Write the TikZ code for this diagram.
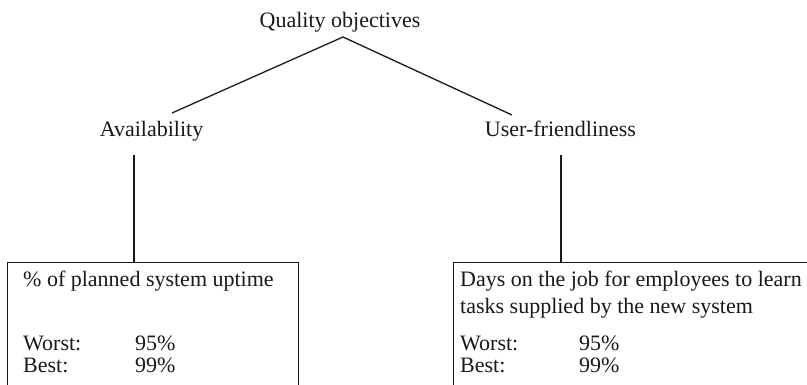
\documentclass[tikz,border=0pt]{standalone}
\usepackage{fontspec}
\setmainfont{Liberation Serif}
\begin{document}
\begin{tikzpicture}[x=1pt,y=-1pt,
  lbl/.style={inner sep=0pt,anchor=base west,font=\fontsize{22}{26}\selectfont,text=black!90},
  clbl/.style={inner sep=0pt,anchor=base,font=\fontsize{22}{26}\selectfont,text=black!90},
  conn/.style={line width=1.3pt,draw=black!90},
  boxstyle/.style={draw=black!90,line width=1.3pt,inner sep=0pt,anchor=north west}]
\clip (0,0) rectangle (807,385);
\fill[white] (0,0) rectangle (807,385);
% labels
\node[clbl] (qo) at (340,28) {Quality objectives};
\node[clbl] (av) at (151.5,137) {Availability};
\node[clbl] (uf) at (560.5,137) {User-friendliness};
% connector points
\coordinate (apex) at (343,37);
\coordinate (avtop) at (172,113);
\coordinate (uftop) at (512,115);
\coordinate (avbot) at (134,155);
\coordinate (ufbot) at (561,155);
% boxes
\node[boxstyle,minimum width=291pt,minimum height=200pt] (box1) at (7,262) {};
\node[boxstyle,minimum width=420pt,minimum height=200pt] (box2) at (453,262) {};
% connectors
\draw[conn] (apex) -- (avtop);
\draw[conn] (apex) -- (uftop);
\draw[conn] (avbot) -- (avbot |- box1.north);
\draw[conn] (ufbot) -- (ufbot |- box2.north);
% left box text
\node[lbl] (t1) at (23,287) {\% of planned system uptime};
\node[lbl] (w1) at (23,350) {Worst:};
\node[lbl] (w1v) at (135,350) {95\%};
\node[lbl] (b1) at (23,372) {Best:};
\node[lbl] (b1v) at (135,372) {99\%};
% right box text
\node[lbl] (t2a) at (460,287) {Days on the job for employees to learn};
\node[lbl] (t2b) at (460,313) {tasks supplied by the new system};
\node[lbl] (w2) at (460,350) {Worst:};
\node[lbl] (w2v) at (579,350) {95\%};
\node[lbl] (b2) at (460,372) {Best:};
\node[lbl] (b2v) at (579,372) {99\%};
\end{tikzpicture}
\end{document}
